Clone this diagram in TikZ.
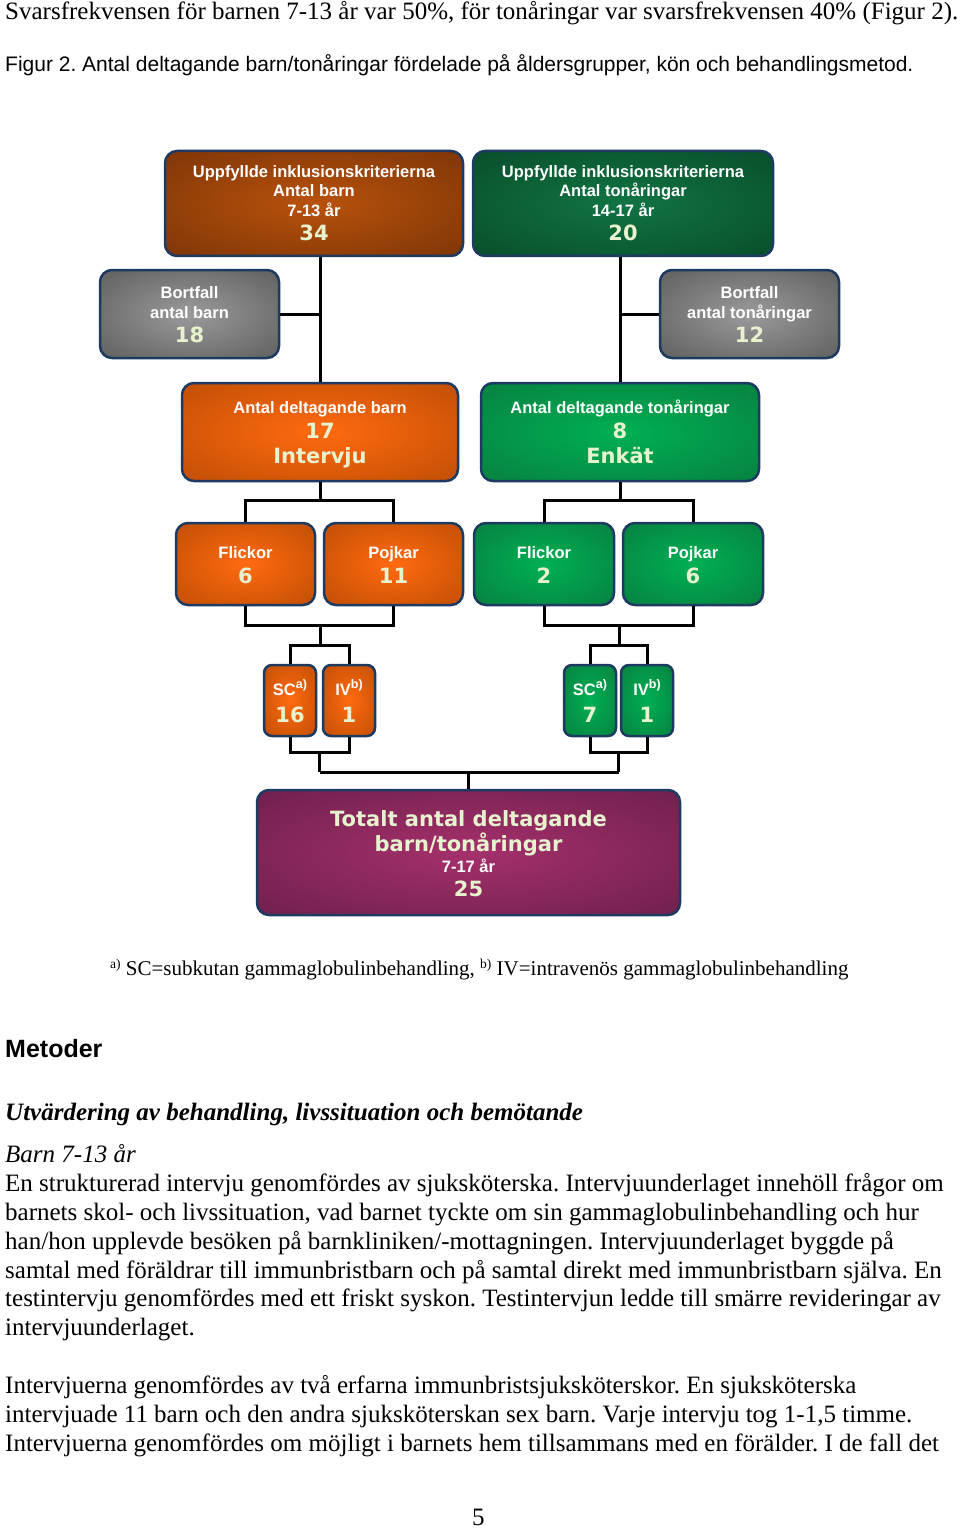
\documentclass[tikz,border=0pt]{standalone}
\usepackage{fontspec}
\setmainfont{Liberation Serif}
\newfontfamily\arialf{Liberation Sans}
\newfontfamily\verdf{DejaVu Sans}
\usetikzlibrary{calc}
\frenchspacing
\definecolor{brdr}{HTML}{1D3A60}
\definecolor{brA}{HTML}{B8520C}\definecolor{brB}{HTML}{682A05}
\definecolor{orA}{HTML}{FF6A10}\definecolor{orB}{HTML}{A84400}
\definecolor{dgA}{HTML}{117444}\definecolor{dgB}{HTML}{053F20}
\definecolor{gnA}{HTML}{00B054}\definecolor{gnB}{HTML}{0A6E38}
\definecolor{gyA}{HTML}{9A9A9A}\definecolor{gyB}{HTML}{484848}
\definecolor{puA}{HTML}{A5306C}\definecolor{puB}{HTML}{5A1A40}
\definecolor{numc}{HTML}{E6F3CE}
\pgfdeclareradialshading{shBr}{\pgfpoint{0bp}{0bp}}{color(0bp)=(brA); color(50bp)=(brB); color(72bp)=(brB)}
\pgfdeclareradialshading{shOr}{\pgfpoint{0bp}{0bp}}{color(0bp)=(orA); color(50bp)=(orB); color(72bp)=(orB)}
\pgfdeclareradialshading{shDg}{\pgfpoint{0bp}{0bp}}{color(0bp)=(dgA); color(50bp)=(dgB); color(72bp)=(dgB)}
\pgfdeclareradialshading{shGn}{\pgfpoint{0bp}{0bp}}{color(0bp)=(gnA); color(50bp)=(gnB); color(72bp)=(gnB)}
\pgfdeclareradialshading{shGy}{\pgfpoint{0bp}{0bp}}{color(0bp)=(gyA); color(50bp)=(gyB); color(72bp)=(gyB)}
\pgfdeclareradialshading{shPu}{\pgfpoint{0bp}{0bp}}{color(0bp)=(puA); color(50bp)=(puB); color(72bp)=(puB)}
\tikzset{
  box/.style={draw=brdr, line width=2.5pt, rounded corners=12pt, inner sep=0pt, rectangle},
  smallbox/.style={box, rounded corners=8pt},
  conn/.style={line width=3pt, black},
  lbl/.style={font=\arialf\bfseries\fontsize{16.5}{19}\selectfont, text=white, anchor=base, inner sep=0pt},
  num/.style={font=\verdf\bfseries\fontsize{21}{24}\selectfont, text=numc, anchor=base, inner sep=0pt},
  body/.style={font=\fontsize{25}{29}\selectfont, anchor=base west, inner sep=0pt},
}
\newcommand{\supa}[1]{\raisebox{7pt}{\fontsize{12.5}{12}\selectfont #1}}
\begin{document}
\begin{tikzpicture}[x=1pt,y=-1pt]
\useasboundingbox (0,0) rectangle (960,1530);
% top text
\node[body] (t1) at (5,20) {Svarsfrekvensen för barnen 7-13 år var 50\%, för tonåringar var svarsfrekvensen 40\% (Figur 2).};
\node[anchor=base west, inner sep=0pt, font=\arialf\fontsize{21}{24}\selectfont] (t2) at (5,72) {Figur 2. Antal deltagande barn/tonåringar fördelade på åldersgrupper, kön och behandlingsmetod.};
% boxes
\node[box, shading=shBr, minimum width=298pt, minimum height=105pt] (b1) at (314,203.5) {};
\node[box, shading=shDg, minimum width=300pt, minimum height=105pt] (b2) at (623,203.5) {};
\node[box, shading=shGy, minimum width=179pt, minimum height=88pt] (bf1) at (189.5,314) {};
\node[box, shading=shGy, minimum width=179pt, minimum height=88pt] (bf2) at (749.5,314) {};
\node[box, shading=shOr, minimum width=276pt, minimum height=98pt] (d1) at (320,432) {};
\node[box, shading=shGn, minimum width=278pt, minimum height=98pt] (d2) at (620,432) {};
\node[box, shading=shOr, minimum width=139pt, minimum height=82pt] (f1) at (245.5,564) {};
\node[box, shading=shOr, minimum width=139pt, minimum height=82pt] (p1) at (393.5,564) {};
\node[box, shading=shGn, minimum width=140pt, minimum height=82pt] (f2) at (544,564) {};
\node[box, shading=shGn, minimum width=140pt, minimum height=82pt] (p2) at (693,564) {};
\node[smallbox, shading=shOr, minimum width=52pt, minimum height=71pt] (sc1) at (290,700.5) {};
\node[smallbox, shading=shOr, minimum width=52pt, minimum height=71pt] (iv1) at (349,700.5) {};
\node[smallbox, shading=shGn, minimum width=52pt, minimum height=71pt] (sc2) at (590,700.5) {};
\node[smallbox, shading=shGn, minimum width=52pt, minimum height=71pt] (iv2) at (647,700.5) {};
\node[box, shading=shPu, minimum width=423pt, minimum height=125pt] (tot) at (468.5,852.5) {};
% connectors
\coordinate (j1) at (320,500); \coordinate (j1r) at (620,500);
\coordinate (j2) at (320,625); \coordinate (j2r) at (619,625);
\coordinate (j3) at (320,645); \coordinate (j3r) at (619,645);
\coordinate (j4) at (319.5,752); \coordinate (j4r) at (618.5,752);
\coordinate (j5) at (319.5,772); \coordinate (j5r) at (618.5,772);
\coordinate (j6) at (468.5,772);
\draw[conn] (b1.south -| d1.north) -- (d1.north);
\draw[conn] (b2.south -| d2.north) -- (d2.north);
\draw[conn] (bf1.east) -- (bf1.east -| d1.north);
\draw[conn] (bf2.west) -- (bf2.west -| d2.north);
\draw[conn] (d1.south) -- (j1);
\draw[conn] (f1.north) |- (j1) -| (p1.north);
\draw[conn] (d2.south) -- (j1r);
\draw[conn] (f2.north) |- (j1r) -| (p2.north);
\draw[conn] (f1.south) |- (j2) -| (p1.south);
\draw[conn] (f2.south) |- (j2r) -| (p2.south);
\draw[conn] (j2) -- (j3); \draw[conn] (j2r) -- (j3r);
\draw[conn] (sc1.north) |- (j3) -| (iv1.north);
\draw[conn] (sc2.north) |- (j3r) -| (iv2.north);
\draw[conn] (sc1.south) |- (j4) -| (iv1.south);
\draw[conn] (sc2.south) |- (j4r) -| (iv2.south);
\draw[conn] (j4) -- (j5); \draw[conn] (j4r) -- (j5r);
\draw[conn] (j5) -- (j5r);
\draw[conn] (j6) -- (tot.north);
% box texts
\node[lbl] (b1a) at (314,178) {Uppfyllde inklusionskriterierna};
\node[lbl] (b1b) at (314,197) {Antal barn};
\node[lbl] (b1c) at (314,217) {7-13 år};
\node[num] (b1n) at (314,241) {34};
\node[lbl] (b2a) at (623,178) {Uppfyllde inklusionskriterierna};
\node[lbl] (b2b) at (623,197) {Antal tonåringar};
\node[lbl] (b2c) at (623,217) {14-17 år};
\node[num] (b2n) at (623,241) {20};
\node[lbl] (bf1a) at (189.5,298) {Bortfall};
\node[lbl] (bf1b) at (189.5,318) {antal barn};
\node[num] (bf1n) at (189.5,342) {18};
\node[lbl] (bf2a) at (749.5,298) {Bortfall};
\node[lbl] (bf2b) at (749.5,318) {antal tonåringar};
\node[num] (bf2n) at (749.5,342) {12};
\node[lbl] (d1a) at (320,413) {Antal deltagande barn};
\node[num] (d1n) at (320,438) {17};
\node[num] (d1m) at (320,463) {Intervju};
\node[lbl] (d2a) at (620,413) {Antal deltagande tonåringar};
\node[num] (d2n) at (620,438) {8};
\node[num] (d2m) at (620,463) {Enkät};
\node[lbl] (f1a) at (245.5,558) {Flickor};
\node[num] (f1n) at (245.5,583) {6};
\node[lbl] (p1a) at (393.5,558) {Pojkar};
\node[num] (p1n) at (393.5,583) {11};
\node[lbl] (f2a) at (544,558) {Flickor};
\node[num] (f2n) at (544,583) {2};
\node[lbl] (p2a) at (693,558) {Pojkar};
\node[num] (p2n) at (693,583) {6};
\node[lbl] (sc1a) at (290,695) {SC\supa{a)}};
\node[num] (sc1n) at (290,722) {16};
\node[lbl] (iv1a) at (349,695) {IV\supa{b)}};
\node[num] (iv1n) at (349,722) {1};
\node[lbl] (sc2a) at (590,695) {SC\supa{a)}};
\node[num] (sc2n) at (590,722) {7};
\node[lbl] (iv2a) at (647,695) {IV\supa{b)}};
\node[num] (iv2n) at (647,722) {1};
\node[num] (tota) at (468.5,826) {Totalt antal deltagande};
\node[num] (totb) at (468.5,851) {barn/tonåringar};
\node[lbl] (totc) at (468.5,872) {7-17 år};
\node[num] (totn) at (468.5,896) {25};
% footnote
\node[anchor=base west, inner sep=0pt, font=\fontsize{21}{24}\selectfont] (fn) at (110,975) {\raisebox{7pt}{\fontsize{13.5}{13}\selectfont a)} SC=subkutan gammaglobulinbehandling, \raisebox{7pt}{\fontsize{13.5}{13}\selectfont b)} IV=intravenös gammaglobulinbehandling};
% lower text
\node[anchor=base west, inner sep=0pt, font=\arialf\bfseries\fontsize{25}{29}\selectfont] (h1) at (5,1057) {Metoder};
\node[body, font=\bfseries\itshape\fontsize{25}{29}\selectfont] (h2) at (5,1120) {Utvärdering av behandling, livssituation och bemötande};
\node[body, font=\itshape\fontsize{25}{29}\selectfont] (h3) at (5,1162) {Barn 7-13 år};
\node[body] (l1) at (5,1191) {En strukturerad intervju genomfördes av sjuksköterska. Intervjuunderlaget innehöll frågor om};
\node[body] (l2) at (5,1220) {barnets skol- och livssituation, vad barnet tyckte om sin gammaglobulinbehandling och hur};
\node[body] (l3) at (5,1249) {han/hon upplevde besöken på barnkliniken/-mottagningen. Intervjuunderlaget byggde på};
\node[body] (l4) at (5,1278) {samtal med föräldrar till immunbristbarn och på samtal direkt med immunbristbarn själva. En};
\node[body] (l5) at (5,1306) {testintervju genomfördes med ett friskt syskon. Testintervjun ledde till smärre revideringar av};
\node[body] (l6) at (5,1335) {intervjuunderlaget.};
\node[body] (m1) at (5,1393) {Intervjuerna genomfördes av två erfarna immunbristsjuksköterskor. En sjuksköterska};
\node[body] (m2) at (5,1422) {intervjuade 11 barn och den andra sjuksköterskan sex barn. Varje intervju tog 1-1,5 timme.};
\node[body] (m3) at (5,1451) {Intervjuerna genomfördes om möjligt i barnets hem tillsammans med en förälder. I de fall det};
\node[body] (pg) at (472,1525) {5};
\end{tikzpicture}
\end{document}
